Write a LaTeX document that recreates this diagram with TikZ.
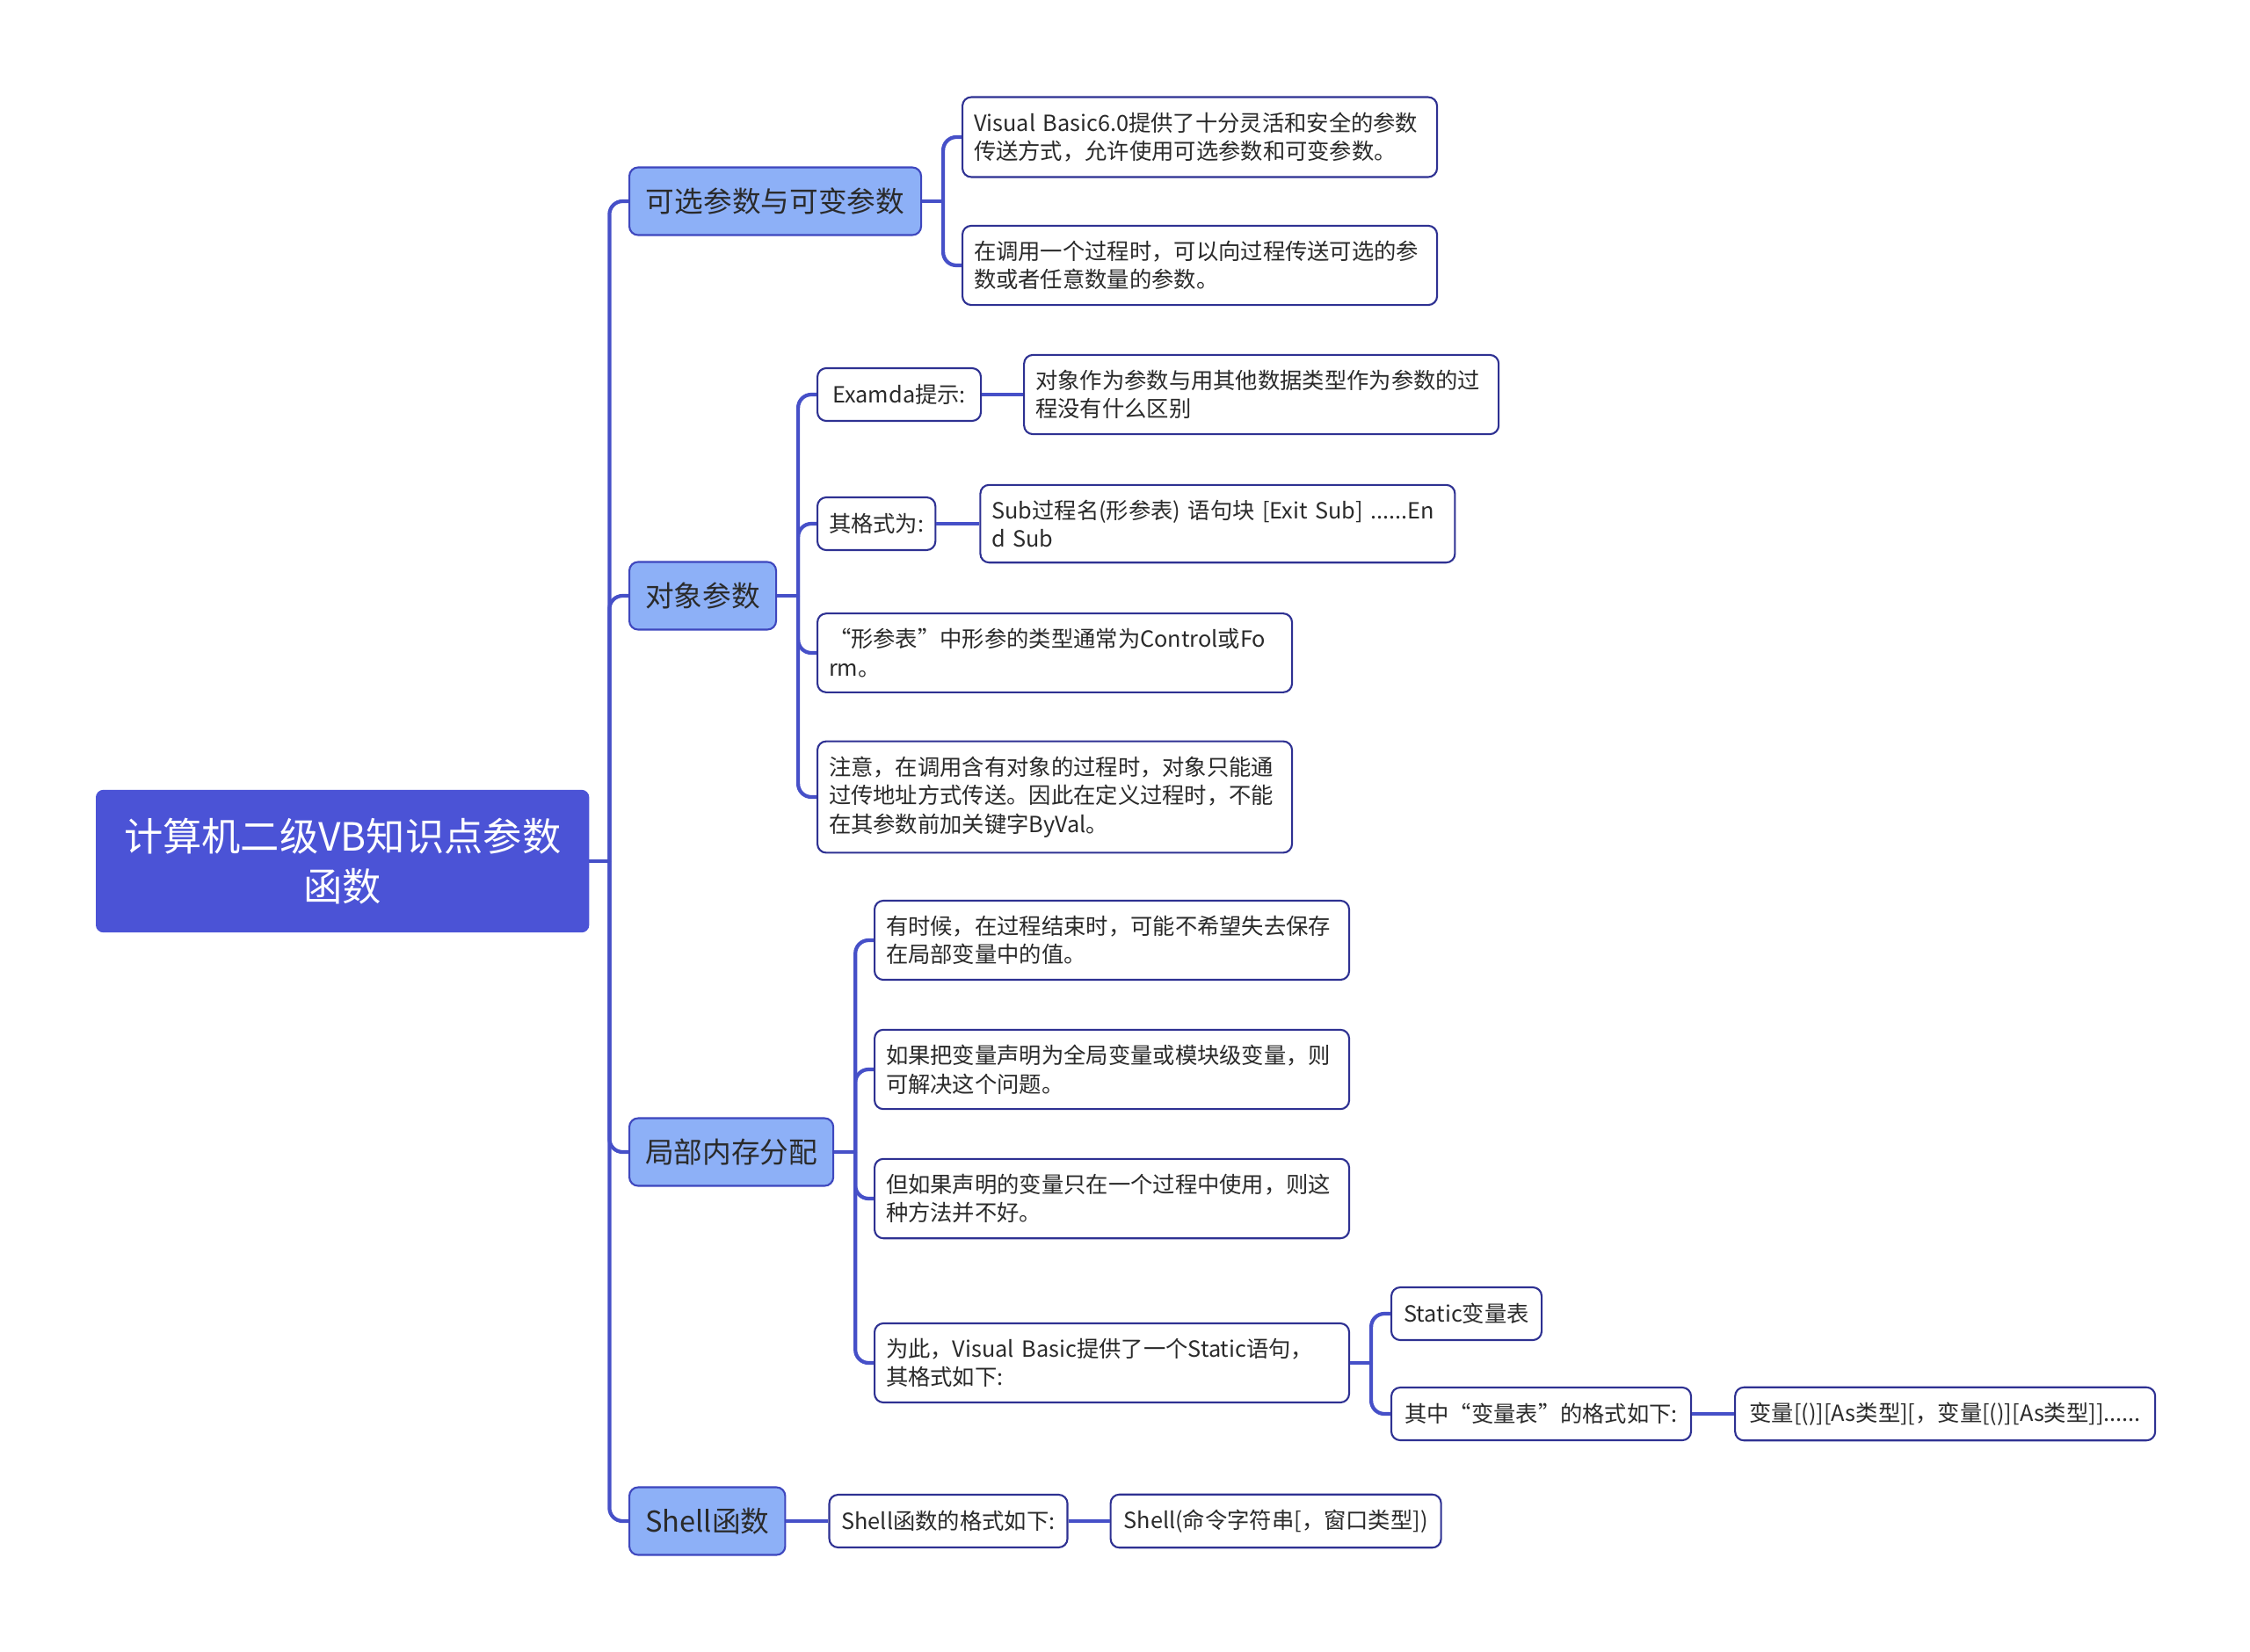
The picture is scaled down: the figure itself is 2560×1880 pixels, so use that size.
\documentclass[tikz,border=0pt]{standalone}
\usepackage{fontspec}
\setmainfont{Noto Sans CJK SC}
\usepackage{xcolor}
\usetikzlibrary{positioning}

\definecolor{rootblue}{HTML}{4B53D6}
\definecolor{topicblue}{HTML}{8DB0F7}
\definecolor{topicline}{HTML}{3E47BE}
\definecolor{linkblue}{HTML}{4650C8}
\definecolor{leafline}{HTML}{2E3192}
\definecolor{inkgray}{HTML}{2A2A2A}

\tikzset{
  root/.style={fill=rootblue, draw=rootblue, rounded corners=0.8mm, text=white,
    font=\fontsize{12.6}{16.2}\selectfont, align=center, text width=52mm,
    minimum width=56mm, minimum height=16.1mm, inner sep=0pt},
  topic/.style={fill=topicblue, draw=topicline, line width=0.6pt, rounded corners=1mm,
    text=inkgray, font=\fontsize{9.3}{11}\selectfont, minimum height=7.7mm, inner xsep=1.8mm},
  leaf/.style={fill=white, draw=leafline, line width=0.6pt, rounded corners=1mm,
    text=inkgray, font=\fontsize{7.2}{9.3}\selectfont, minimum height=6mm,
    inner xsep=1.3mm, inner ysep=1.7mm},
  note/.style={leaf, align=left, text width=51.4mm},
  link/.style={draw=linkblue, line width=1.2pt, rounded corners=1.5mm},
}

\begin{document}
\begin{tikzpicture}[x=0.1mm,y=-0.1mm]
\useasboundingbox (0,0) rectangle (2560,1880);

% Root
\node[root, anchor=west] (root) at (109,980) {计算机二级VB知识点参数\\函数};

% Main topics
\node[topic, anchor=west, minimum width=33.2mm] (optarg) at (715,229) {可选参数与可变参数};
\node[topic, anchor=west, minimum width=16.7mm] (objarg) at (715,678) {对象参数};
\node[topic, anchor=west, minimum width=23.2mm] (localmem) at (715,1311) {局部内存分配};
\node[topic, anchor=west, minimum width=17.6mm] (shellfn) at (715,1731) {Shell函数};

% Optional / variable arguments
\node[note, anchor=west] (opt1) at (1094,156) {Visual~Basic6.0提供了十分灵活和安全的参数\\传送方式，允许使用可选参数和可变参数。};
\node[note, anchor=west] (opt2) at (1094,302) {在调用一个过程时，可以向过程传送可选的参\\数或者任意数量的参数。};

% Object arguments
\node[leaf, anchor=west, minimum width=18.6mm] (examda) at (929,449) {Examda提示:};
\node[note, right=4.7mm of examda] (examda1) {对象作为参数与用其他数据类型作为参数的过\\程没有什么区别};
\node[leaf, anchor=west, minimum width=13.2mm] (subfmt) at (929,596) {其格式为:};
\node[note, right=4.9mm of subfmt] (subfmt1) {Sub过程名(形参表)~语句块~[Exit~Sub]~......En\\d~Sub};
\node[note, anchor=west] (objtype) at (929,743) {“形参表”中形参的类型通常为Control或Fo\\rm。};
\node[note, anchor=west] (objnote) at (929,907) {注意，在调用含有对象的过程时，对象只能通\\过传地址方式传送。因此在定义过程时，不能\\在其参数前加关键字ByVal。};

% Local memory
\node[note, anchor=west] (loc1) at (994,1070) {有时候，在过程结束时，可能不希望失去保存\\在局部变量中的值。};
\node[note, anchor=west] (loc2) at (994,1217) {如果把变量声明为全局变量或模块级变量，则\\可解决这个问题。};
\node[note, anchor=west] (loc3) at (994,1364) {但如果声明的变量只在一个过程中使用，则这\\种方法并不好。};
\node[note, anchor=west] (loc4) at (994,1551) {为此，Visual~Basic提供了一个Static语句，\\其格式如下:};
\node[leaf, anchor=west, minimum width=17.1mm] (static) at (1582,1495) {Static变量表};
\node[leaf, anchor=west, minimum width=34.1mm] (varfmt) at (1582,1609) {其中“变量表”的格式如下:};
\node[leaf, right=4.8mm of varfmt, minimum width=47.8mm] (varfmt1) {变量[()][As类型][，变量[()][As类型]]......};

% Shell
\node[leaf, right=4.8mm of shellfn, minimum width=27.1mm] (shellfmt) {Shell函数的格式如下:};
\node[leaf, right=4.7mm of shellfmt, minimum width=37.6mm] (shellfmt1) {Shell(命令字符串[，窗口类型])};

% Links
\draw[link] (root.east) -- ++(23,0) coordinate (rootfork);
\foreach \t in {optarg,objarg,localmem,shellfn}
  \draw[link] (rootfork) |- (\t.west);

\draw[link] (optarg.east) -- ++(24,0) coordinate (optfork);
\foreach \t in {opt1,opt2}
  \draw[link] (optfork) |- (\t.west);

\draw[link] (objarg.east) -- ++(24,0) coordinate (objfork);
\foreach \t in {examda,subfmt,objtype,objnote}
  \draw[link] (objfork) |- (\t.west);
\draw[link] (examda.east) -- (examda1.west);
\draw[link] (subfmt.east) -- (subfmt1.west);

\draw[link] (localmem.east) -- ++(24,0) coordinate (locfork);
\foreach \t in {loc1,loc2,loc3,loc4}
  \draw[link] (locfork) |- (\t.west);
\draw[link] (loc4.east) -- ++(24,0) coordinate (staticfork);
\foreach \t in {static,varfmt}
  \draw[link] (staticfork) |- (\t.west);
\draw[link] (varfmt.east) -- (varfmt1.west);

\draw[link] (shellfn.east) -- (shellfmt.west);
\draw[link] (shellfmt.east) -- (shellfmt1.west);
\end{tikzpicture}
\end{document}
